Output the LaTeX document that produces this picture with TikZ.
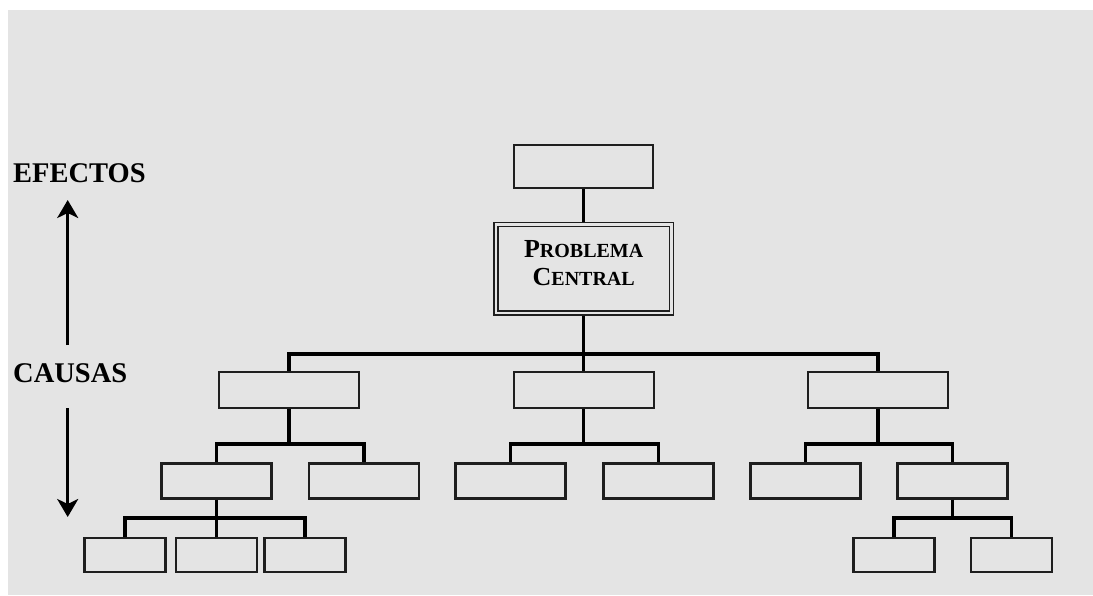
\documentclass[tikz,border=0pt]{standalone}
\usepackage{fontspec}
\setmainfont{Liberation Serif}
\usetikzlibrary{arrows.meta}
\definecolor{bggray}{RGB}{228,228,228}
\definecolor{boxline}{RGB}{30,30,30}
% faked small capitals: large initial, smaller remaining capitals
\newcommand{\scword}[2]{{\fontsize{26}{28}\selectfont #1}{\fontsize{20}{28}\selectfont #2}}

\begin{document}
\begin{tikzpicture}[x=1pt,y=-1pt,
  box/.style={draw=boxline, line width=2.1pt, inner sep=0pt},
  lvlone/.style={box, minimum width=140pt, minimum height=36pt},
  lvltwo/.style={box, minimum width=110pt, minimum height=35pt},
  lvlthree/.style={box, minimum width=81pt, minimum height=34pt},
  link/.style={line width=3.2pt, black},
  sidelabel/.style={font=\bfseries\fontsize{28.5}{30}\selectfont, inner sep=0pt, anchor=base west},
  dirarrow/.style={line width=3pt, -{Stealth[length=18pt,width=21pt,inset=5pt]}}
]
\useasboundingbox (0,0) rectangle (1093,595);
\fill[white] (0,0) rectangle (1093,595);
\fill[bggray] (8,10) rectangle (1093,595);

% side labels and direction arrows
\node[sidelabel] (efectos) at (13,182) {EFECTOS};
\node[sidelabel] (causas) at (13,382) {CAUSAS};
\coordinate (upfrom) at (67.7,345);
\coordinate (uptip) at (67.7,200);
\coordinate (downfrom) at (67.7,408);
\coordinate (downtip) at (67.7,517);
\draw[dirarrow] (upfrom) -- (uptip);
\draw[dirarrow] (downfrom) -- (downtip);

% effect and central problem
\node[box, minimum width=139pt, minimum height=43pt] (top) at (583.7,166.5) {};
\node[draw=boxline, line width=1.6pt, double=bggray, double distance=2.4pt,
      minimum width=175.5pt, minimum height=88.5pt, inner sep=0pt] (pc) at (583.7,268.7) {};
\node[font=\bfseries\fontsize{20}{28}\selectfont, align=center, inner sep=0pt] (pctext) at (583.7,263.5)
  {\scword{P}{ROBLEMA}\\\scword{C}{ENTRAL}};

% causes, first level
\node[lvlone] (c1) at (289,390) {};
\node[lvlone] (c2) at (583.7,390) {};
\node[lvlone] (c3) at (878,390) {};

% causes, second level
\node[lvltwo] (d1) at (216.5,481) {};
\node[lvltwo] (d2) at (364,481) {};
\node[lvltwo] (d3) at (510.5,481) {};
\node[lvltwo] (d4) at (658.5,481) {};
\node[lvltwo] (d5) at (805.5,481) {};
\node[lvltwo] (d6) at (952.5,481) {};

% causes, third level
\node[lvlthree] (e1) at (125,555) {};
\node[lvlthree] (e2) at (216.5,555) {};
\node[lvlthree] (e3) at (305,555) {};
\node[lvlthree] (e4) at (894,555) {};
\node[lvlthree] (e5) at (1011.5,555) {};

% connectors
\coordinate (bar1) at (0,354);
\coordinate (bar2) at (0,444);
\coordinate (bar3) at (0,518);

\draw[link, shorten >=2pt] (top.south) -- (pc.north);
\draw[link, shorten <=2pt] (pc.south) -- (pc.south |- bar1);
\draw[link] (pc.south |- bar1) -| (c1.north);
\draw[link] (pc.south |- bar1) -| (c3.north);
\draw[link] (pc.south |- bar1) -- (c2.north);

\foreach \p/\a/\b in {c1/d1/d2, c2/d3/d4, c3/d5/d6}{
  \draw[link] (\p.south) -- (\p.south |- bar2) -| (\a.north);
  \draw[link] (\p.south |- bar2) -| (\b.north);
}

\draw[link] (d1.south) -- (e2.north);
\draw[link] (d1.south |- bar3) -| (e1.north);
\draw[link] (d1.south |- bar3) -| (e3.north);

\draw[link] (d6.south) -- (d6.south |- bar3) -| (e4.north);
\draw[link] (d6.south |- bar3) -| (e5.north);
\end{tikzpicture}
\end{document}
